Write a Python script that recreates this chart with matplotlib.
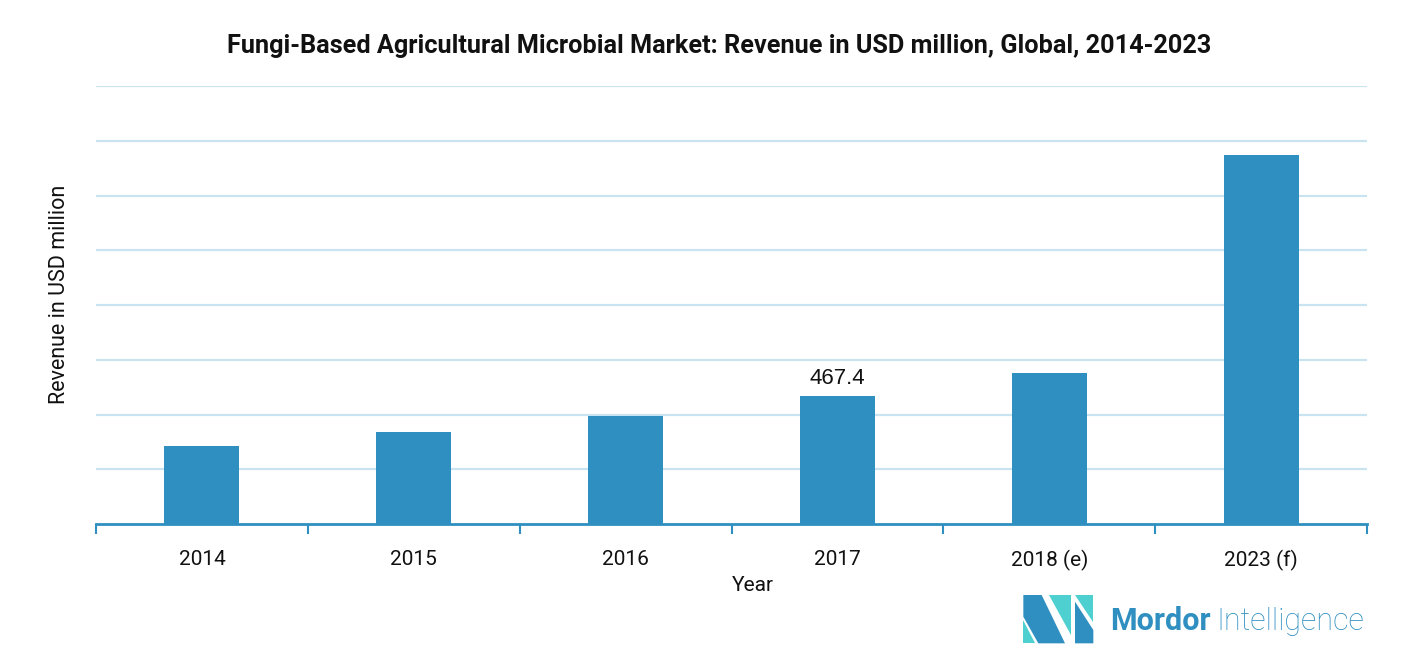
import matplotlib
matplotlib.use("Agg")
import matplotlib.pyplot as plt
from matplotlib.patches import Polygon

years = ["2014", "2015", "2016", "2017", "2018 (e)", "2023 (f)"]
revenue = [285, 336, 395, 467.4, 551, 1349]
labelled = {3: "467.4"}

bar_color = "#2E8FC0"
grid_color = "#C9E4F0"
teal = "#4ECFD0"

plt.rcParams['font.family'] = ['Roboto', 'DejaVu Sans']

fig = plt.figure(figsize=(14.18, 6.46), dpi=100)
W, H = 1418, 646
ax = fig.add_axes([96 / W, 1 - 524 / H, (1367 - 96) / W, (524 - 86) / H])

x = list(range(len(years)))
ax.bar(x, revenue, width=0.354, color=bar_color, zorder=3)
for i, txt in labelled.items():
    ax.text(i, revenue[i] + 25, txt, ha="center", va="bottom",
            fontsize=16, family="Liberation Sans", color="#111111")

ax.set_xlim(-0.5, len(years) - 0.5)
ax.set_ylim(0, 1600)
ax.set_yticks(range(200, 1601, 200))
ax.yaxis.grid(True, color=grid_color, linewidth=1.6, zorder=0)
ax.tick_params(axis="y", left=False, labelleft=False)
for s in ["top", "right", "left"]:
    ax.spines[s].set_visible(False)
ax.spines["bottom"].set_color(bar_color)
ax.spines["bottom"].set_linewidth(2)

# ticks sit on category boundaries, labels at centres
ax.set_xticks([i - 0.5 for i in range(len(years) + 1)])
ax.set_xticklabels([])
ax.tick_params(axis="x", length=7, width=1.5, color=bar_color)
ax.set_xticks(x, minor=True)
ax.set_xticklabels(years, minor=True, fontsize=15, color="#111111")
ax.tick_params(axis="x", which="minor", length=0, pad=19)

ax.set_xlabel("Year", fontsize=15, color="#111111", labelpad=3)
ax.xaxis.label.set_x(0.517)
ax.set_ylabel("Revenue in USD million", fontsize=15.5, color="#111111", labelpad=19)
ax.yaxis.label.set_y(0.525)

fig.text(719 / W, 1 - 46 / H,
         "Fungi-Based Agricultural Microbial Market: Revenue in USD million, Global, 2014-2023",
         ha="center", va="center", fontsize=18.2, fontweight="bold", color="#111111")

# logo
def px(pts):
    return [((1010 + zx / 3) / W, 1 - (580 + zy / 3) / H) for zx, zy in pts]

shapes = [
    ([(40, 45), (95, 45), (165, 190), (85, 190), (40, 110)], bar_color),
    ([(40, 120), (40, 190), (75, 190)], teal),
    ([(118, 45), (182, 45), (182, 165)], teal),
    ([(195, 45), (250, 45), (250, 125)], teal),
    ([(195, 65), (250, 150), (250, 190), (195, 190)], bar_color),
]
for pts, c in shapes:
    fig.patches.append(Polygon(px(pts), closed=True, facecolor=c,
                               edgecolor="none", transform=fig.transFigure))

fig.text(1110 / W, 1 - 621 / H, "Mordor", fontsize=22, fontweight="bold",
         color=bar_color, va="center", ha="left")
fig.text(1216 / W, 1 - 621 / H, "Intelligence", fontsize=22, fontweight="light",
         color=bar_color, va="center", ha="left")

fig.savefig("out.png", dpi=100)
